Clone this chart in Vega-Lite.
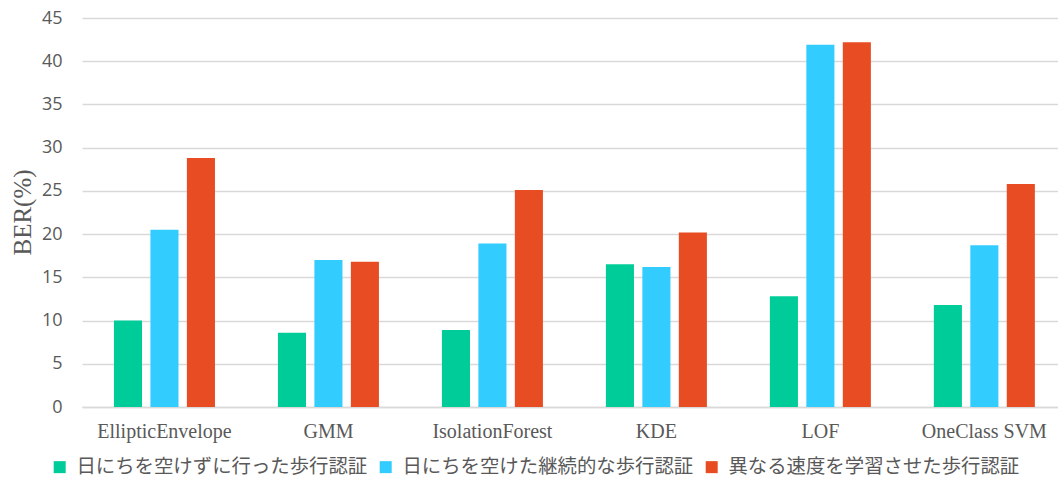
{
  "$schema": "https://vega.github.io/schema/vega-lite/v6.json",
  "width": 976,
  "height": 389,
  "autosize": "none",
  "padding": {"left": 82, "top": 18, "right": 0, "bottom": 72},
  "background": "#ffffff",
  "data": {
    "values": [
      {"method": "EllipticEnvelope", "condition": "日にちを空けずに行った歩行認証", "ber": 10.0},
      {"method": "EllipticEnvelope", "condition": "日にちを空けた継続的な歩行認証", "ber": 20.5},
      {"method": "EllipticEnvelope", "condition": "異なる速度を学習させた歩行認証", "ber": 28.8},
      {"method": "GMM", "condition": "日にちを空けずに行った歩行認証", "ber": 8.6},
      {"method": "GMM", "condition": "日にちを空けた継続的な歩行認証", "ber": 17.0},
      {"method": "GMM", "condition": "異なる速度を学習させた歩行認証", "ber": 16.8},
      {"method": "IsolationForest", "condition": "日にちを空けずに行った歩行認証", "ber": 8.9},
      {"method": "IsolationForest", "condition": "日にちを空けた継続的な歩行認証", "ber": 18.9},
      {"method": "IsolationForest", "condition": "異なる速度を学習させた歩行認証", "ber": 25.1},
      {"method": "KDE", "condition": "日にちを空けずに行った歩行認証", "ber": 16.5},
      {"method": "KDE", "condition": "日にちを空けた継続的な歩行認証", "ber": 16.2},
      {"method": "KDE", "condition": "異なる速度を学習させた歩行認証", "ber": 20.2},
      {"method": "LOF", "condition": "日にちを空けずに行った歩行認証", "ber": 12.8},
      {"method": "LOF", "condition": "日にちを空けた継続的な歩行認証", "ber": 41.9},
      {"method": "LOF", "condition": "異なる速度を学習させた歩行認証", "ber": 42.2},
      {"method": "OneClass SVM", "condition": "日にちを空けずに行った歩行認証", "ber": 11.8},
      {"method": "OneClass SVM", "condition": "日にちを空けた継続的な歩行認証", "ber": 18.7},
      {"method": "OneClass SVM", "condition": "異なる速度を学習させた歩行認証", "ber": 25.8}
    ]
  },
  "mark": {"type": "bar"},
  "encoding": {
    "x": {
      "field": "method",
      "type": "nominal",
      "sort": null,
      "scale": {"paddingInner": 0.384, "paddingOuter": 0.168, "align": 0.58},
      "axis": {
        "title": null,
        "labelAngle": 0,
        "labelFont": "Liberation Serif",
        "labelFontSize": 20,
        "labelColor": "#595959",
        "labelPadding": 14,
        "ticks": false,
        "domain": true,
        "domainColor": "#d9d9d9",
        "domainWidth": 1.5,
        "grid": false
      }
    },
    "xOffset": {
      "field": "condition",
      "type": "nominal",
      "sort": ["日にちを空けずに行った歩行認証", "日にちを空けた継続的な歩行認証", "異なる速度を学習させた歩行認証"],
      "scale": {"paddingInner": 0.23, "paddingOuter": 0}
    },
    "y": {
      "field": "ber",
      "type": "quantitative",
      "scale": {"domain": [0, 45], "nice": false},
      "axis": {
        "title": "BER(%)",
        "titleFont": "Liberation Serif",
        "titleFontSize": 25,
        "titleFontWeight": "normal",
        "titleColor": "#595959",
        "titleAngle": -90,
        "titleX": -60,
        "titleY": 194,
        "titleAlign": "center",
        "titleBaseline": "middle",
        "values": [0, 5, 10, 15, 20, 25, 30, 35, 40, 45],
        "labelFont": "Open Sans",
        "labelFontSize": 18,
        "labelColor": "#595959",
        "labelPadding": 20,
        "ticks": false,
        "domain": false,
        "grid": true,
        "gridColor": "#d9d9d9",
        "gridWidth": 1.5
      }
    },
    "color": {
      "field": "condition",
      "type": "nominal",
      "sort": ["日にちを空けずに行った歩行認証", "日にちを空けた継続的な歩行認証", "異なる速度を学習させた歩行認証"],
      "scale": {
        "domain": ["日にちを空けずに行った歩行認証", "日にちを空けた継続的な歩行認証", "異なる速度を学習させた歩行認証"],
        "range": ["#00CC99", "#33CCFF", "#E84C22"]
      },
      "legend": {
        "title": null,
        "orient": "none",
        "direction": "horizontal",
        "legendX": -32,
        "legendY": 439,
        "symbolType": "square",
        "symbolSize": 144,
        "symbolStrokeWidth": 0,
        "labelFont": "Noto Sans CJK JP",
        "labelFontSize": 19.4,
        "labelColor": "#595959",
        "labelOffset": 7,
        "labelLimit": 400,
        "columnPadding": 8
      }
    }
  },
  "config": {
    "view": {"stroke": null},
    "legend": {"symbolOpacity": 1}
  }
}
